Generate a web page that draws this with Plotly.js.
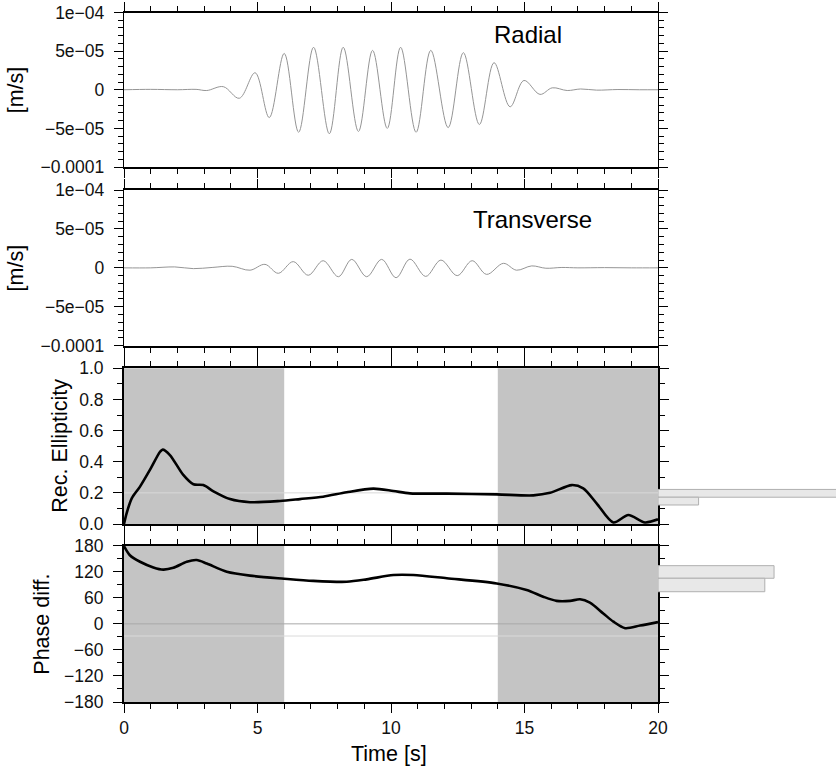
<!DOCTYPE html>
<html>
<head>
<meta charset="utf-8">
<script src="https://cdn.plot.ly/plotly-3.0.1.min.js"></script>
<style>html,body{margin:0;padding:0;background:#fff;}#chart{width:836px;height:768px;}</style>
</head>
<body>
<div id="chart"></div>
<script>
// ---- data ----
const timeRange = [0, 20];

// Radial velocity, extremes (s, 1e-5 m/s)
const radialT = [0, 1.0, 2.0, 2.7, 3.1, 3.72, 4.32, 4.91, 5.44, 6.0, 6.54, 7.1, 7.69, 8.21, 8.78, 9.31, 9.86, 10.36, 10.94, 11.49, 12.14, 12.71, 13.31, 13.86, 14.46, 14.98, 15.58, 16.04, 16.6, 17.1, 17.7, 18.5, 19.3, 20];
const radialV = [0, 0.05, 0, 0.05, -0.1, 0.4, -1.1, 2.2, -3.6, 4.7, -5.5, 5.5, -5.7, 5.5, -5.4, 5.1, -5.0, 5.5, -5.5, 5.1, -4.9, 4.8, -4.5, 3.5, -2.2, 1.2, -0.6, 0.25, -0.1, 0.1, -0.05, 0.03, 0, 0];

// Transverse velocity, extremes (s, 1e-5 m/s)
const transT = [0, 1.0, 1.9, 2.6, 3.3, 4.05, 4.72, 5.28, 5.78, 6.34, 6.9, 7.46, 8.03, 8.53, 9.09, 9.65, 10.19, 10.71, 11.3, 11.87, 12.48, 13.04, 13.58, 14.21, 14.7, 15.27, 15.8, 16.4, 17.0, 18.0, 19.0, 20];
const transV = [0, 0, 0.12, -0.1, 0.05, 0.2, -0.3, 0.45, -0.7, 0.8, -0.95, 0.92, -1.14, 1.09, -1.14, 1.09, -1.27, 1.12, -1.1, 1.0, -1.0, 0.92, -0.84, 0.58, -0.3, 0.25, -0.05, 0.05, 0, 0.03, 0, 0];
const ampScale = 1e-5;

// Rectilinear ellipticity
const ellT = [0, 0.1, 0.29, 0.6, 0.97, 1.35, 1.45, 1.72, 2.22, 2.6, 2.97, 3.35, 3.97, 4.72, 5.84, 6.59, 7.46, 8.34, 9.34, 10.09, 10.71, 12.09, 13.96, 15.33, 15.96, 16.77, 17.2, 17.7, 18.33, 18.89, 19.51, 20];
const ellV = [0, 0.07, 0.165, 0.24, 0.347, 0.464, 0.478, 0.443, 0.315, 0.255, 0.25, 0.21, 0.16, 0.14, 0.148, 0.16, 0.175, 0.204, 0.227, 0.212, 0.197, 0.195, 0.19, 0.184, 0.2, 0.25, 0.229, 0.133, 0.01, 0.058, 0.01, 0.03];

// Phase difference (deg)
const phT = [0, 0.22, 0.6, 1.1, 1.47, 1.85, 2.35, 2.72, 3.1, 3.85, 4.72, 6.0, 7.09, 8.34, 9.09, 10.09, 10.84, 12.09, 13.96, 15.08, 15.7, 16.2, 16.71, 17.08, 17.45, 17.95, 18.33, 18.77, 19.33, 20];
const phV = [179, 158, 143, 130, 125, 129, 143, 147, 139, 120, 111, 104, 99, 97, 102.5, 112.5, 112.5, 105, 93, 78, 62.5, 53, 53, 56.5, 48.7, 24, 5, -10, -4, 4];

// Shaded time windows (s)
const shadeStart = [0, 14];
const shadeEnd = [6, 20];

// Faint reference lines
const ellRefLines = [0.2];
const phRefLines = [0, -28];
const phRefColors = ['#a9a9a9', '#dadada'];

// Side bars (bin edges and relative lengths)
const ellBinLow = [0.172, 0.122];
const ellBinHigh = [0.222, 0.172];
const ellBinLen = [1.05, 0.228];
const phBinLow = [105, 74];
const phBinHigh = [134, 105];
const phBinLen = [0.652, 0.6];

// Tick labels
const ampTickVals = [-1e-4, -5e-5, 0, 5e-5, 1e-4];
const ampTickText = ['\u22120.0001', '\u22125e\u221205', '0', '5e\u221205', '1e\u221204'];
const ellTickVals = [0, 0.2, 0.4, 0.6, 0.8, 1.0];
const phTickVals = [-180, -120, -60, 0, 60, 120, 180];

// ---- traces ----
const FONT = 'Liberation Sans, Arial, sans-serif';
const traces = [];
traces.push({x: radialT, y: radialV.map(v => v * ampScale), xaxis: 'x', yaxis: 'y', mode: 'lines',
  line: {color: '#959595', width: 1, shape: 'spline', smoothing: 1}, hoverinfo: 'skip'});
traces.push({x: transT, y: transV.map(v => v * ampScale), xaxis: 'x2', yaxis: 'y2', mode: 'lines',
  line: {color: '#959595', width: 1, shape: 'spline', smoothing: 1}, hoverinfo: 'skip'});
ellRefLines.forEach(v => traces.push({x: timeRange, y: [v, v], xaxis: 'x3', yaxis: 'y3', mode: 'lines',
  line: {color: '#d8d8d8', width: 1}, hoverinfo: 'skip'}));
traces.push({x: ellT, y: ellV, xaxis: 'x3', yaxis: 'y3', mode: 'lines',
  line: {color: '#000', width: 2.6, shape: 'spline', smoothing: 0.8}, hoverinfo: 'skip'});
phRefLines.forEach((v, i) => traces.push({x: timeRange, y: [v, v], xaxis: 'x4', yaxis: 'y4', mode: 'lines',
  line: {color: phRefColors[i], width: 1}, hoverinfo: 'skip'}));
traces.push({x: phT, y: phV, xaxis: 'x4', yaxis: 'y4', mode: 'lines',
  line: {color: '#000', width: 2.6, shape: 'spline', smoothing: 0.8}, hoverinfo: 'skip'});
traces.push({type: 'bar', orientation: 'h', xaxis: 'x5', yaxis: 'y3',
  y: ellBinLow.map((l, i) => (l + ellBinHigh[i]) / 2), width: ellBinLow.map((l, i) => ellBinHigh[i] - l),
  x: ellBinLen, marker: {color: '#e8e8e8', line: {color: '#b0b0b0', width: 1}}, hoverinfo: 'skip'});
traces.push({type: 'bar', orientation: 'h', xaxis: 'x5', yaxis: 'y4',
  y: phBinLow.map((l, i) => (l + phBinHigh[i]) / 2), width: phBinLow.map((l, i) => phBinHigh[i] - l),
  x: phBinLen, marker: {color: '#e8e8e8', line: {color: '#b0b0b0', width: 1}}, hoverinfo: 'skip'});

// ---- layout ----
const XDOM = [124 / 836, 658 / 836];
function pd(top, bot) { return [1 - bot / 768, 1 - top / 768]; }
const tickFont = {family: FONT, size: 17.5, color: '#111'};
function xax(anchor, labels) {
  return {domain: XDOM, anchor: anchor, range: timeRange, showline: true, mirror: 'ticks', linewidth: 2, linecolor: '#000',
    ticks: 'outside', ticklen: 9, tickwidth: 1, tickcolor: '#000', tickmode: 'linear', tick0: 0, dtick: 5,
    minor: {ticks: 'outside', dtick: 1, tick0: 0, ticklen: 5, tickwidth: 1, tickcolor: '#000', showgrid: false},
    showticklabels: labels, tickfont: tickFont, showgrid: false, zeroline: false, fixedrange: true};
}
function yax(anchor, dom, range, lw, extra) {
  return Object.assign({domain: dom, anchor: anchor, range: range, showline: true, mirror: 'ticks', linewidth: lw, linecolor: '#000',
    ticks: 'outside', ticklen: 9, tickwidth: 1, tickcolor: '#000', tickfont: tickFont, ticklabelstandoff: 6,
    showgrid: false, zeroline: false, fixedrange: true}, extra);
}
const shapes = [];
['3', '4'].forEach(ax => shadeStart.forEach((s, i) => shapes.push({type: 'rect', xref: 'x' + ax, yref: 'y' + ax + ' domain',
  x0: s, x1: shadeEnd[i], y0: 0, y1: 1, fillcolor: '#c4c4c4', line: {width: 0}, layer: 'below'})));

const annFont = {family: FONT, size: 21.5, color: '#000'};
const layout = {
  width: 836, height: 768, margin: {l: 0, r: 0, t: 0, b: 0}, paper_bgcolor: '#fff', plot_bgcolor: 'rgba(0,0,0,0)',
  showlegend: false, bargap: 0,
  xaxis: xax('y', false), xaxis2: xax('y2', false), xaxis3: xax('y3', false), xaxis4: xax('y4', true),
  xaxis5: {domain: [658 / 836, 1], anchor: 'y3', range: [0, 1], visible: false, fixedrange: true},
  yaxis: yax('x', pd(12.5, 167), [-1e-4, 1e-4], 1.2, {tickmode: 'array', tickvals: ampTickVals, ticktext: ampTickText,
    minor: {ticks: 'outside', dtick: 1e-5, tick0: 0, ticklen: 5, tickwidth: 1, tickcolor: '#000'}}),
  yaxis2: yax('x2', pd(190, 345.7), [-1e-4, 1e-4], 1.2, {tickmode: 'array', tickvals: ampTickVals, ticktext: ampTickText,
    minor: {ticks: 'outside', dtick: 1e-5, tick0: 0, ticklen: 5, tickwidth: 1, tickcolor: '#000'}}),
  yaxis3: yax('x3', pd(368.3, 524), [0, 1], 2, {tickmode: 'array', tickvals: ellTickVals, tickformat: '.1f',
    minor: {ticks: 'outside', dtick: 0.1, tick0: 0, ticklen: 5, tickwidth: 1, tickcolor: '#000'}}),
  yaxis4: yax('x4', pd(545.7, 702), [-180, 180], 2, {tickmode: 'array', tickvals: phTickVals,
    minor: {ticks: 'outside', dtick: 30, tick0: 0, ticklen: 5, tickwidth: 1, tickcolor: '#000'}}),
  shapes: shapes,
  annotations: [
    {text: 'Radial', xref: 'paper', yref: 'paper', x: 527.7 / 836, y: 1 - 35 / 768, showarrow: false, font: {family: FONT, size: 24, color: '#000'}, xanchor: 'center', yanchor: 'middle'},
    {text: 'Transverse', xref: 'paper', yref: 'paper', x: 532 / 836, y: 1 - 220 / 768, showarrow: false, font: {family: FONT, size: 24, color: '#000'}, xanchor: 'center', yanchor: 'middle'},
    {text: '[m/s]', xref: 'paper', yref: 'paper', x: 15.5 / 836, y: 1 - 89.8 / 768, textangle: -90, showarrow: false, font: annFont, xanchor: 'center', yanchor: 'middle'},
    {text: '[m/s]', xref: 'paper', yref: 'paper', x: 15.5 / 836, y: 1 - 267.9 / 768, textangle: -90, showarrow: false, font: annFont, xanchor: 'center', yanchor: 'middle'},
    {text: 'Rec. Ellipticity', xref: 'paper', yref: 'paper', x: 60 / 836, y: 1 - 445.8 / 768, textangle: -90, showarrow: false, font: annFont, xanchor: 'center', yanchor: 'middle'},
    {text: 'Phase diff.', xref: 'paper', yref: 'paper', x: 42.5 / 836, y: 1 - 624.2 / 768, textangle: -90, showarrow: false, font: annFont, xanchor: 'center', yanchor: 'middle'},
    {text: 'Time [s]', xref: 'paper', yref: 'paper', x: 388.5 / 836, y: 1 - 754 / 768, showarrow: false, font: annFont, xanchor: 'center', yanchor: 'middle'}
  ]
};
Plotly.newPlot('chart', traces, layout, {staticPlot: true, displayModeBar: false});
</script>
</body>
</html>
